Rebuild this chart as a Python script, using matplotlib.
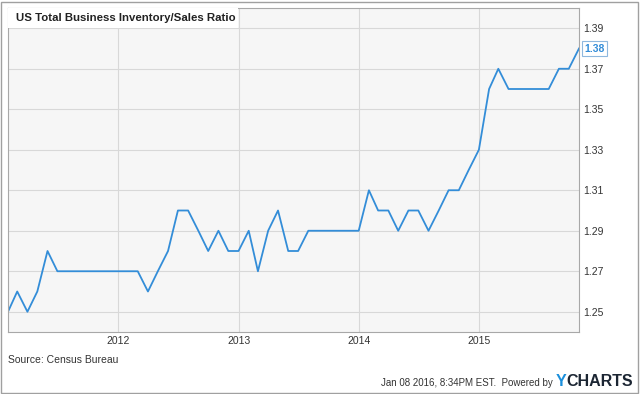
import numpy as np
import pandas as pd
import matplotlib
matplotlib.use('Agg')
import matplotlib.pyplot as plt
from matplotlib.patches import Rectangle

plt.rcParams['font.family'] = ['Liberation Sans', 'DejaVu Sans']

# monthly inventory/sales ratio, Jan 2011 .. Oct 2015 (month end)
dates = pd.date_range('2011-01-31', periods=58, freq='ME')
ratio = [1.25, 1.26, 1.25, 1.26, 1.28, 1.27, 1.27, 1.27, 1.27, 1.27, 1.27, 1.27,
         1.27, 1.27, 1.26, 1.27, 1.28, 1.30, 1.30, 1.29, 1.28, 1.29, 1.28, 1.28,
         1.29, 1.27, 1.29, 1.30, 1.28, 1.28, 1.29, 1.29, 1.29, 1.29, 1.29, 1.29,
         1.31, 1.30, 1.30, 1.29, 1.30, 1.30, 1.29, 1.30, 1.31, 1.31, 1.32, 1.33,
         1.36, 1.37, 1.36, 1.36, 1.36, 1.36, 1.36, 1.37, 1.37, 1.38]
yticks = [1.25, 1.27, 1.29, 1.31, 1.33, 1.35, 1.37, 1.39]
xtick_years = [2012, 2013, 2014, 2015]

line_color = '#338dd8'

fig = plt.figure(figsize=(6.4, 3.94), dpi=100)
W, H = 640, 394
ax = fig.add_axes([8 / W, 1 - 332 / H, (579 - 8) / W, (332 - 8) / H])
ax.set_facecolor('#f6f6f6')

ax.plot(dates, ratio, color=line_color, lw=1.3)

ax.set_xlim(dates[0], dates[-1])
ax.set_ylim(1.24, 1.40)
ax.set_yticks(yticks)
ax.set_yticklabels(['%.2f' % v for v in yticks])
ax.yaxis.tick_right()
ax.set_xticks([pd.Timestamp('%d-01-01' % y) for y in xtick_years])
ax.set_xticklabels([str(y) for y in xtick_years])
ax.tick_params(length=0, labelsize=7.5, colors='#333333')
ax.tick_params(axis='y', pad=3)
ax.tick_params(axis='x', pad=3)
ax.grid(True, color='#d8d8d8', lw=0.8)
ax.set_axisbelow(True)
for s in ax.spines.values():
    s.set_color('#a8a8a8')
    s.set_linewidth(0.8)

# title box inside plot
ax.add_patch(Rectangle((0, 1 - 20 / 324), (238 - 8) / 571, 20 / 324,
                       transform=ax.transAxes, fc='white', ec='none', zorder=3))
ax.text(8 / 571, 1 - 10 / 324, 'US Total Business Inventory/Sales Ratio',
        transform=ax.transAxes, fontsize=8.2, fontweight='bold', color='#222222',
        va='center', ha='left', zorder=4)

# last value label
ax.annotate('%.2f' % ratio[-1], xy=(dates[-1], ratio[-1]), xytext=(4, 0),
            textcoords='offset points', va='center', ha='left',
            fontsize=7.5, fontweight='bold', color=line_color,
            bbox=dict(boxstyle='square,pad=0.2', fc='white', ec='#8fb8de', lw=0.8),
            annotation_clip=False)

fig.text(8 / W, 1 - 360 / H, 'Source: Census Bureau', fontsize=7.5,
         color='#333333', va='center', ha='left')
fig.text(553 / W, 1 - 383 / H, 'Jan 08 2016, 8:34PM EST.  Powered by',
         fontsize=7, color='#333333', va='center', ha='right')
fig.text(556 / W, 1 - 381 / H, 'Y', fontsize=11.5, fontweight='bold',
         color='#1a8fdc', va='center', ha='left')
fig.text(566 / W, 1 - 381 / H, 'CHARTS', fontsize=11.5, fontweight='bold',
         color='#1c2633', va='center', ha='left')

# outer frame
fig.add_artist(Rectangle((1 / W, 1 / H), (W - 3) / W, (H - 3) / H,
                         transform=fig.transFigure, fc='none', ec='#a0a0a0', lw=1))

fig.savefig('out.png', dpi=100)
